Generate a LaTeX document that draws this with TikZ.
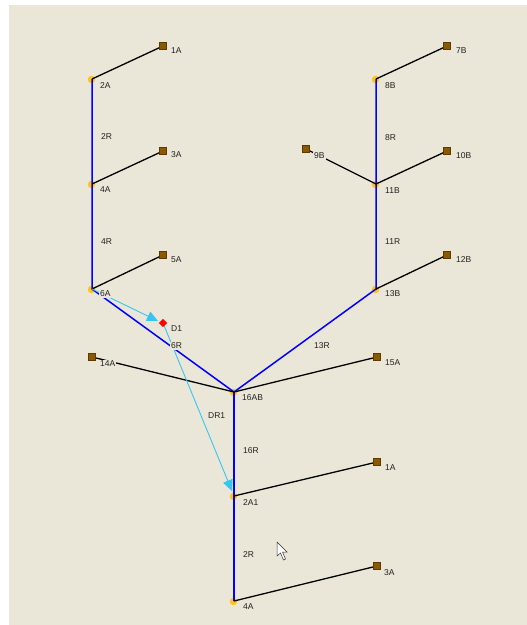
\documentclass[tikz,border=0pt]{standalone}
\usepackage{fontspec}
\setmainfont{Liberation Sans}
\usetikzlibrary{arrows.meta,shapes.geometric}
\definecolor{bg}{HTML}{EBE7D8}
\definecolor{term}{HTML}{8B5A00}
\definecolor{termd}{HTML}{5C3A00}
\definecolor{junc}{HTML}{FFC414}
\definecolor{cy}{HTML}{33C6F2}
\definecolor{lbl}{HTML}{202020}
\definecolor{bl}{HTML}{0000FF}
\tikzset{
  pipe/.style={bl, line width=1.5pt},
  wire/.style={black, line width=1.3pt},
  jdot/.style={circle, fill=junc, minimum size=7.5pt, inner sep=0pt},
  tsq/.style={rectangle, fill=term, draw=termd, line width=0.5pt, minimum size=7pt, inner sep=0pt},
  lab/.style={anchor=west, fill=bg, text=lbl, inner sep=1pt, font=\fontsize{8.5}{10}\selectfont},
  flow/.style={cy, line width=0.9pt, -{Triangle[length=11pt,width=10pt]}},
}
\begin{document}
\begin{tikzpicture}[x=1pt,y=-1pt]
\fill[white] (0,0) rectangle (527,625);
\fill[bg] (9,5) rectangle (527,625);
\useasboundingbox (0,0) rectangle (527,625);
% coordinates
\coordinate (a2A) at (92,79);
\coordinate (a1A) at (163,46);
\coordinate (a4A) at (92,184);
\coordinate (a3A) at (163,151);
\coordinate (a6A) at (92,289);
\coordinate (a5A) at (163,255);
\coordinate (a14A) at (92,357);
\coordinate (ab16) at (234,392);
\coordinate (a15A) at (377,357);
\coordinate (b13) at (376,289);
\coordinate (b12) at (447,255);
\coordinate (b11) at (376,184);
\coordinate (b9) at (306,149);
\coordinate (b10) at (447,151);
\coordinate (b8) at (376,79);
\coordinate (b7) at (447,46);
\coordinate (c2A1) at (234,496);
\coordinate (c1A) at (377,462);
\coordinate (c4A) at (234,601);
\coordinate (c3A) at (377,566);
\coordinate (d1) at (163,323);
\coordinate (f1tip) at (158,321);
\coordinate (f2tip) at (232,491);
% junction dots
\foreach \p in {a2A,a4A,a6A,ab16,b13,b11,b8,c2A1,c4A}
  \node[jdot] at ([xshift=-0.5pt,yshift=-0.5pt]\p) {};
% blue pipes
\draw[pipe] (a2A) -- (a4A) -- (a6A) -- (ab16);
\draw[pipe] (b8) -- (b11) -- (b13) -- (ab16);
\draw[pipe] (ab16) -- (c2A1) -- (c4A);
% black wires
\draw[wire] (a2A) -- (a1A);
\draw[wire] (a4A) -- (a3A);
\draw[wire] (a6A) -- (a5A);
\draw[wire] (a14A) -- (ab16) -- (a15A);
\draw[wire] (b8) -- (b7);
\draw[wire] (b9) -- (b11) -- (b10);
\draw[wire] (b13) -- (b12);
\draw[wire] (c2A1) -- (c1A);
\draw[wire] (c4A) -- (c3A);
% flows
\draw[flow] (a6A) -- (f1tip);
\draw[flow] (d1) -- (f2tip);
% terminals
\foreach \p in {a1A,a3A,a5A,a14A,a15A,b12,b9,b10,b7,c1A,c3A}
  \node[tsq] at (\p) {};
\node[diamond, fill=red, minimum size=8.5pt, inner sep=0pt] (dd1) at (d1) {};
% labels
\node[lab] (l2A) at (99,86) {2A};
\node[lab] (l4A) at (99,190) {4A};
\node[lab] (l6A) at (99,294) {6A};
\node[lab] (l1A) at (170,51) {1A};
\node[lab] (l3A) at (170,155) {3A};
\node[lab] (l5A) at (170,260) {5A};
\node[lab] (l2R) at (100,137) {2R};
\node[lab] (l4R) at (100,242) {4R};
\node[lab] (lD1) at (170,329) {D1};
\node[lab] (l6R) at (170,346) {6R};
\node[lab] (l14A) at (99,364) {14A};
\node[lab] (l16AB) at (241,398) {16AB};
\node[lab] (l15A) at (384,363) {15A};
\node[lab] (l13R) at (313,346) {13R};
\node[lab] (l13B) at (384,294) {13B};
\node[lab] (l12B) at (455,260) {12B};
\node[lab] (l11R) at (384,242) {11R};
\node[lab] (l11B) at (384,191) {11B};
\node[lab] (l9B) at (313,156) {9B};
\node[lab] (l10B) at (455,156) {10B};
\node[lab] (l8R) at (384,138) {8R};
\node[lab] (l8B) at (384,86) {8B};
\node[lab] (l7B) at (455,51) {7B};
\node[lab] (lDR1) at (207,416) {DR1};
\node[lab] (l16R) at (242,451) {16R};
\node[lab] (l2A1) at (242,503) {2A1};
\node[lab] (l1Ab) at (384,468) {1A};
\node[lab] (l2Rb) at (242,555) {2R};
\node[lab] (l4Ab) at (242,607) {4A};
\node[lab] (l3Ab) at (383,573) {3A};
% mouse cursor
\draw[fill=white, draw=black!80, line width=0.5pt, line join=miter]
  (277,542) -- (277,556) -- (280.5,553) -- (283.5,560) -- (285.5,559) -- (282.5,552) -- (287,552) -- cycle;
\end{tikzpicture}
\end{document}
